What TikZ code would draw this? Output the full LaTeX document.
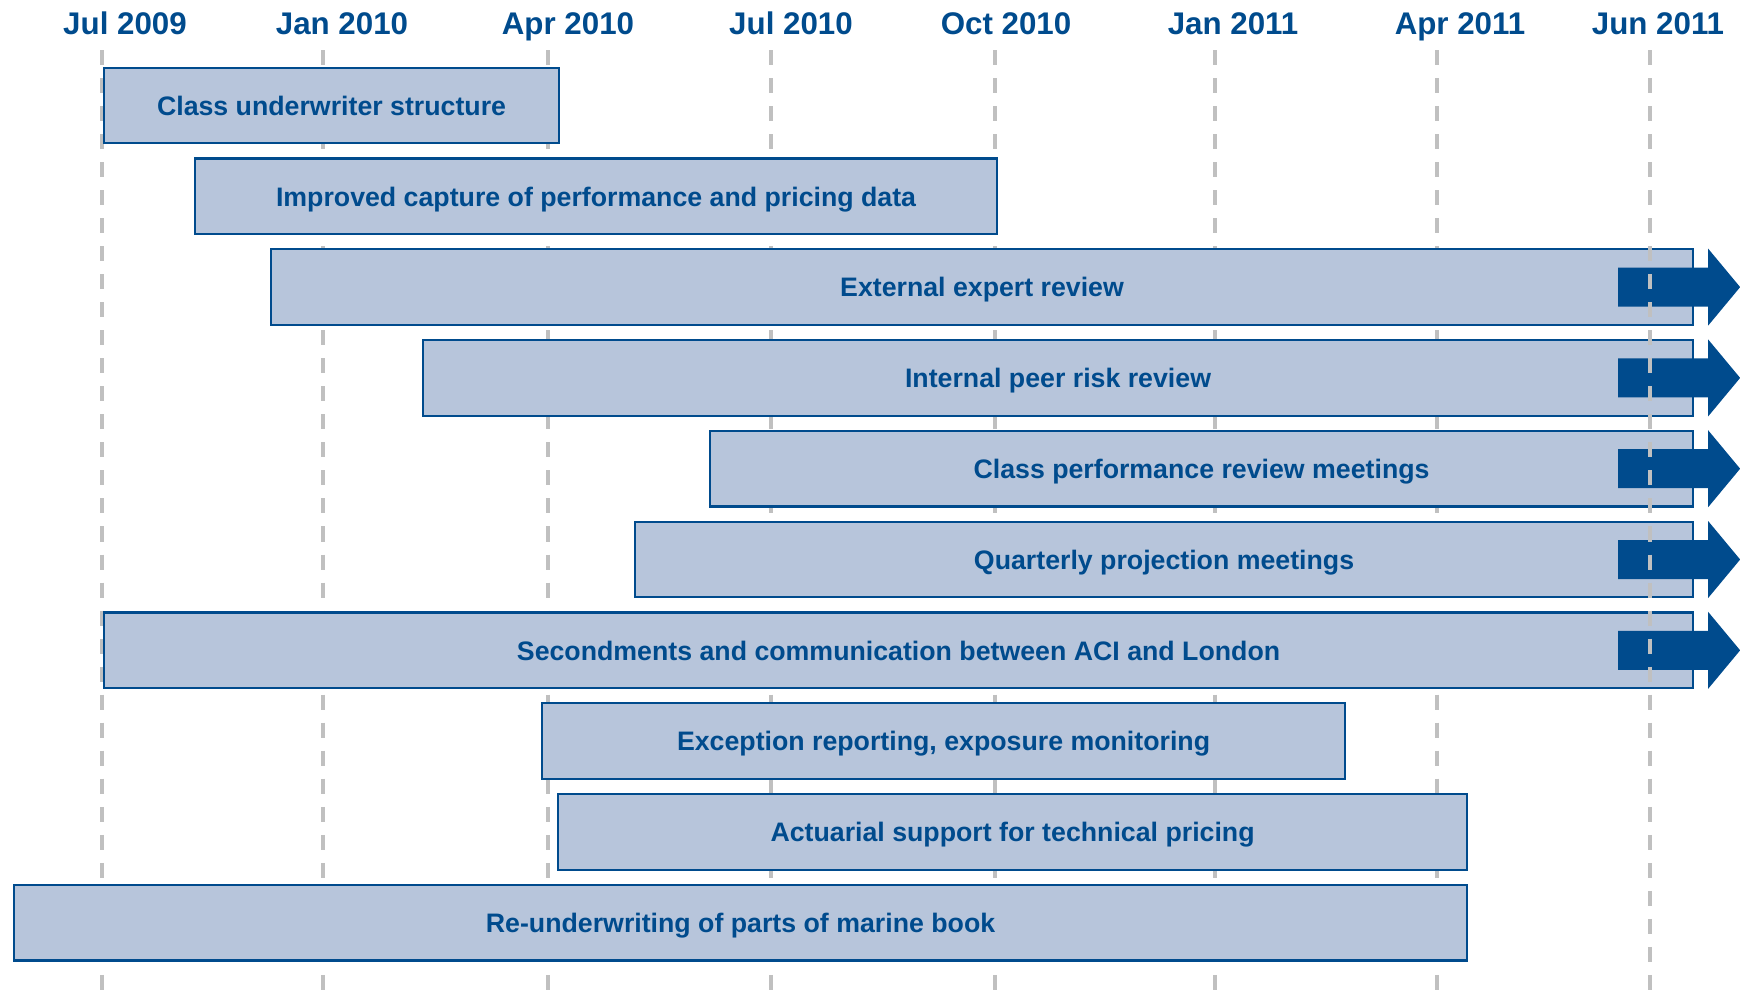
\documentclass[tikz,border=0pt]{standalone}
\usepackage{fontspec}
\setmainfont{Liberation Sans}
\usepackage{tikz}
\usepackage{xcolor}
\definecolor{barblue}{RGB}{183,197,219}
\definecolor{darkblue}{RGB}{0,75,141}
\definecolor{gridgray}{RGB}{192,192,192}

\begin{document}
\begin{tikzpicture}[x=0.01cm,y=-0.01cm,
    task/.style={rectangle,draw=darkblue,line width=0.6pt,fill=barblue,anchor=west,inner sep=0pt,
      minimum height=0.755cm,text height=0.72em,text depth=0.16em,
      font=\bfseries\fontsize{7.6}{9}\selectfont,text=darkblue},
    month/.style={text height=0.72em,text depth=0.06em,font=\bfseries\fontsize{8.9}{10}\selectfont,text=darkblue},
    gridln/.style={gridgray,line width=0.9pt,dash pattern=on 4.27pt off 3.7pt}]
  \useasboundingbox (0,0) rectangle (1740,990);
  % months along the top, grid lines behind the bars
  \foreach \g/\lx/\m [count=\k] in {102/125/Jul 2009,323/342/Jan 2010,548/568/Apr 2010,771/791/Jul 2010,
      995/1006/Oct 2010,1215/1233/Jan 2011,1437/1460/Apr 2011,1650/1658/Jun 2011}{
    \node[month] (lbl\k) at (\lx,23) {\m};
    \coordinate (gtop\k) at (\g,50);
    \coordinate (gbot\k) at (\g,990);
  }
  \foreach \k in {1,...,7}{\draw[gridln] (gtop\k) -- (gbot\k);}
  % one bar per row
  \foreach \s/\e/\t [count=\i] in {103/558/Class underwriter structure,
      194/996/Improved capture of performance and pricing data,
      270/1692/External expert review,
      422/1692/Internal peer risk review,
      709/1692/Class performance review meetings,
      634/1692/Quarterly projection meetings,
      103/1692/Secondments and communication between ACI and London,
      541/1344/{Exception reporting, exposure monitoring},
      557/1466/Actuarial support for technical pricing,
      13/1466/Re-underwriting of parts of marine book}{
    \node[task,minimum width={(\e-\s)*0.01cm}] (bar\i) at (\s,{105.5+90.8*(\i-1)}) {\t};
  }
  % ongoing items
  \foreach \i in {3,...,7}{
    \fill[darkblue,shift={(bar\i.east)}] (-76,-19.5) -- (14,-19.5) -- (14,-38.5) -- (46,0)
      -- (14,38.5) -- (14,19.5) -- (-76,19.5) -- cycle;
  }
  \draw[gridln] (gtop8) -- (gbot8);
\end{tikzpicture}
\end{document}
